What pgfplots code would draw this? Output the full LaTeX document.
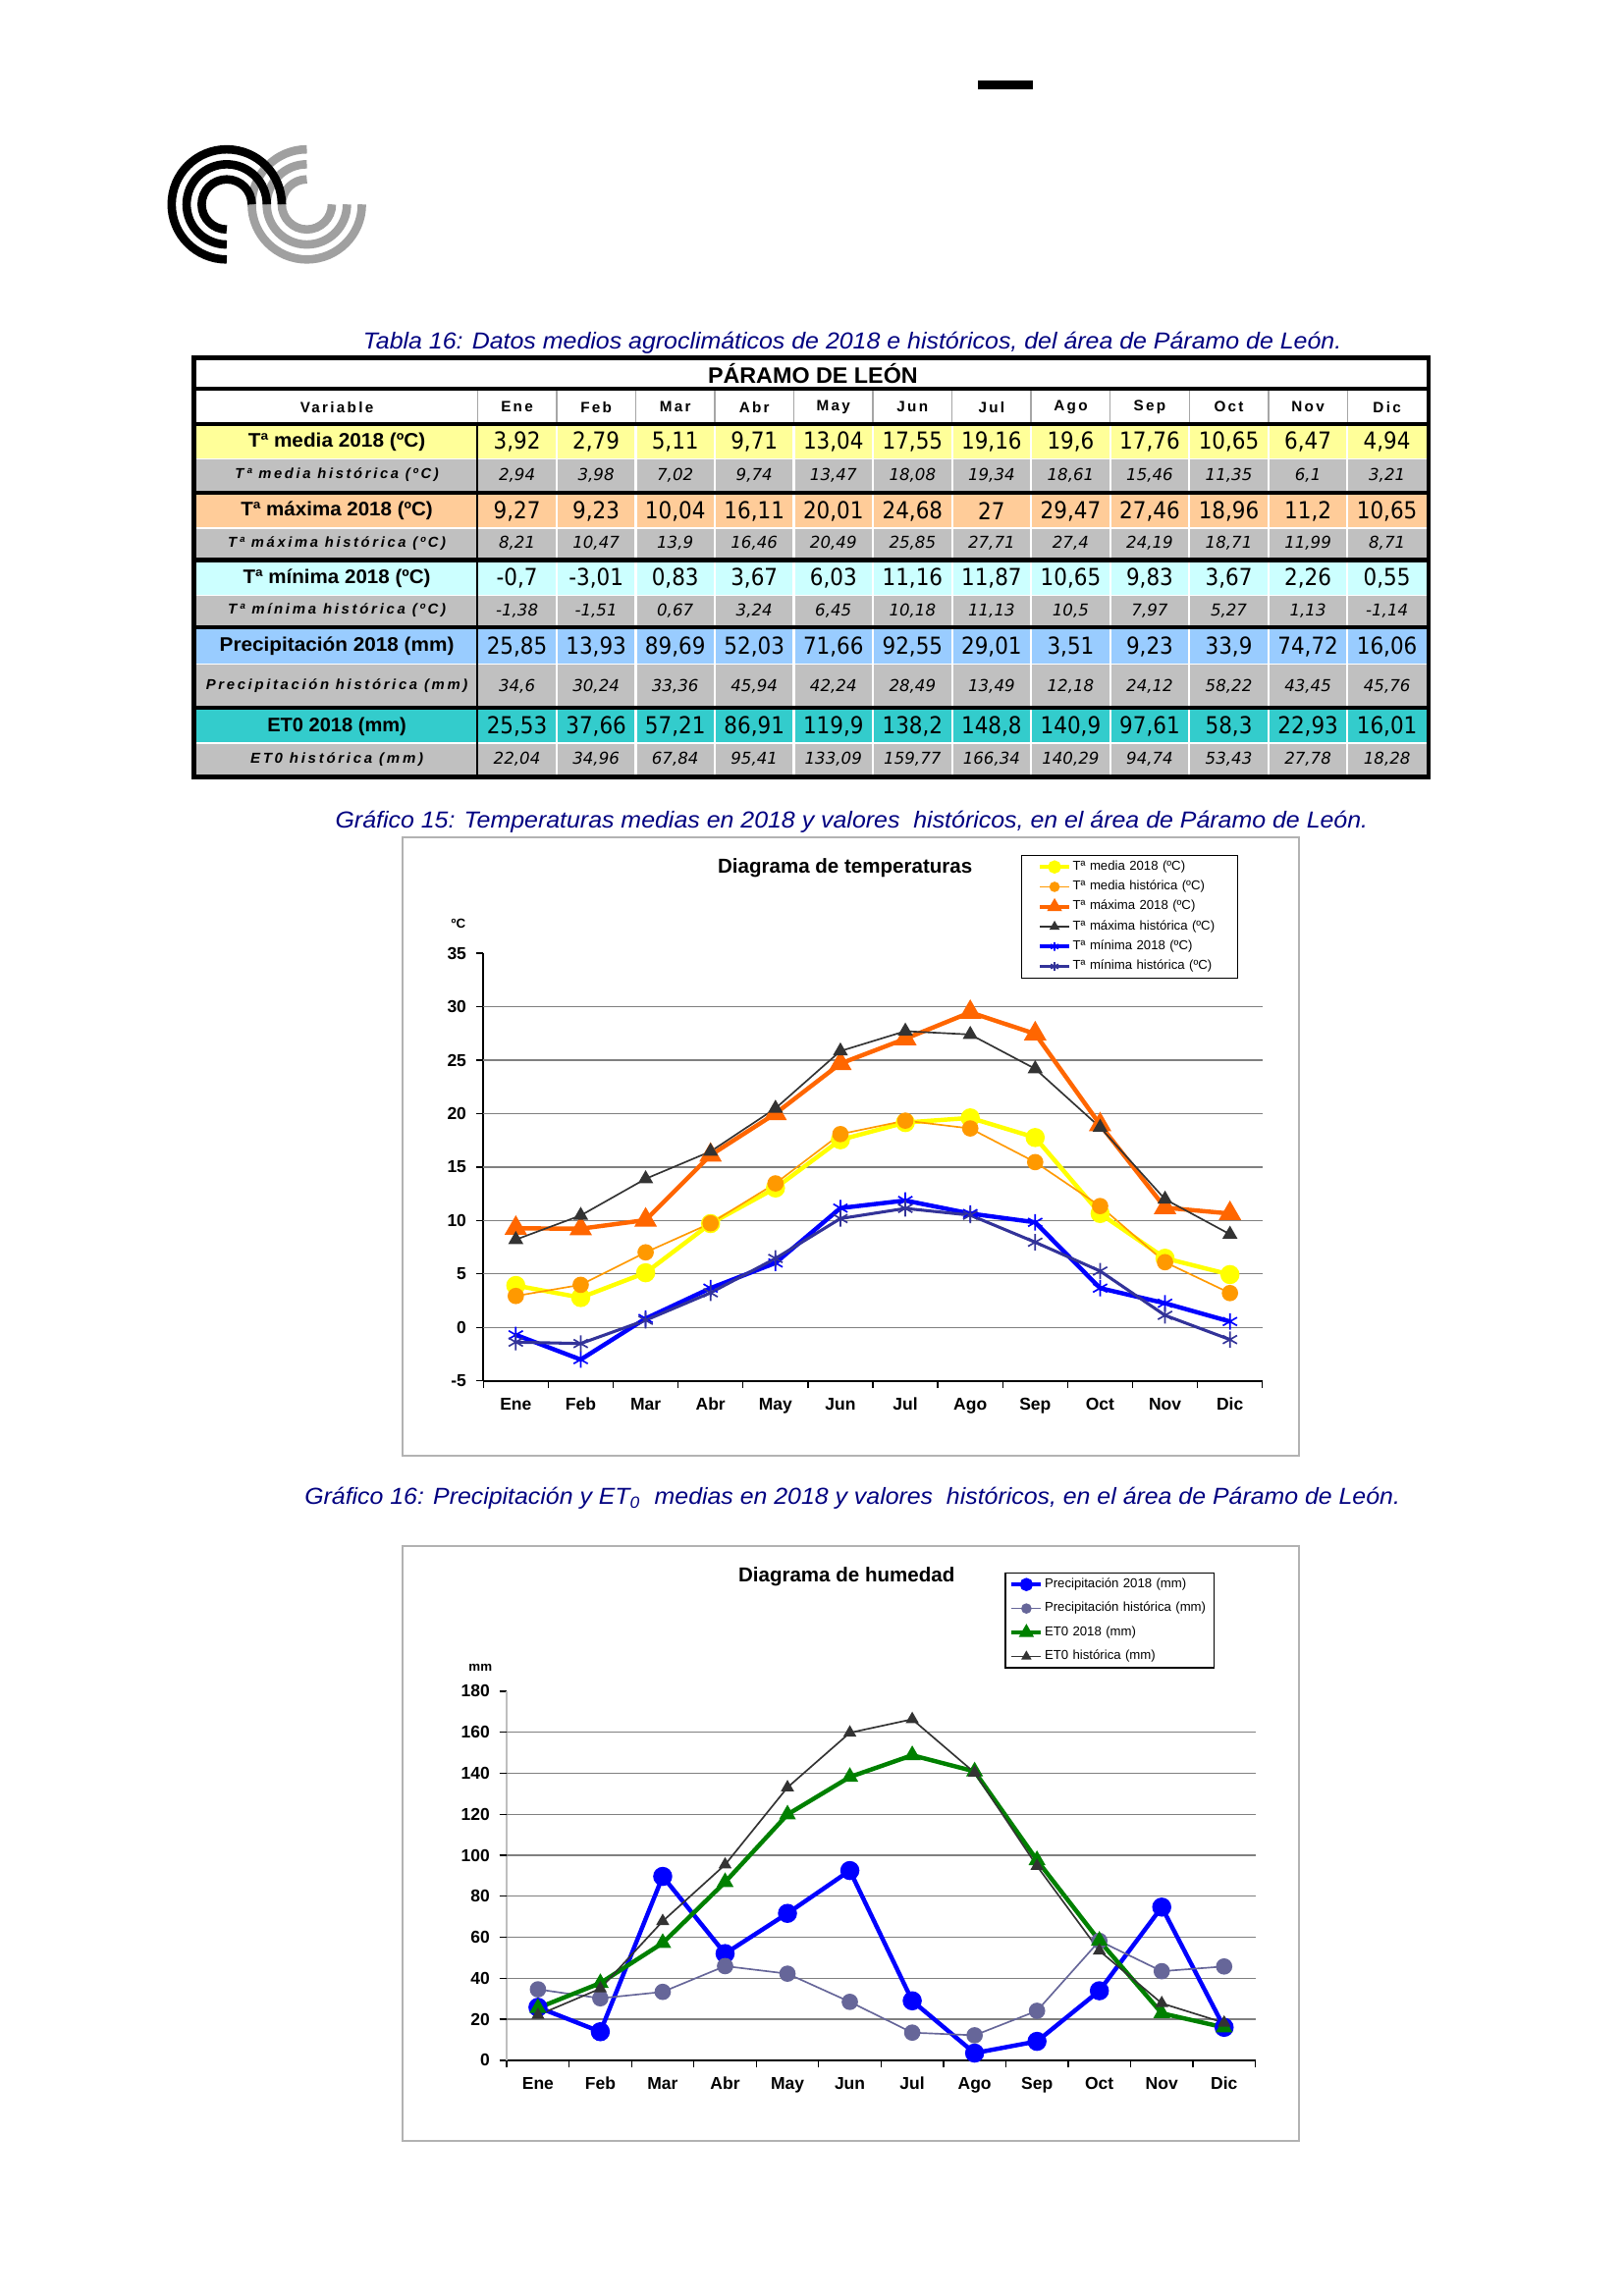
\documentclass[border=0pt]{standalone}
\usepackage{fontspec}
\setmainfont{Liberation Sans}
\newfontfamily\dvs{DejaVu Sans}
\newfontfamily\spc{Liberation Sans}[LetterSpace=15]
\newfontfamily\hsp{Liberation Sans}[LetterSpace=18]
\usepackage{pgfplots}
\pgfplotsset{compat=1.18}
\definecolor{capblue}{HTML}{000080}
\definecolor{rowyel}{HTML}{FFFF99}
\definecolor{rowgray}{HTML}{C0C0C0}
\definecolor{roworg}{HTML}{FFCC99}
\definecolor{rowcyan}{HTML}{CCFFFF}
\definecolor{rowblue}{HTML}{99CCFF}
\definecolor{rowteal}{HTML}{33CCCC}
\definecolor{lyellow}{HTML}{FFFF00}
\definecolor{lorange}{HTML}{FF9900}
\definecolor{lred}{HTML}{FF6600}
\definecolor{ldark}{HTML}{333333}
\definecolor{lblue}{HTML}{0000FF}
\definecolor{lnavy}{HTML}{333399}
\definecolor{lpurple}{HTML}{666699}
\definecolor{lgreen}{HTML}{008000}
\definecolor{logogray}{HTML}{A0A0A0}

\newcommand\bnum[1]{\scalebox{0.9}[1]{\dvs\fontsize{8.6}{9}\selectfont #1}}
\newcommand\hnum[1]{{\dvs\itshape\fontsize{6}{7}\selectfont #1}}
\newcommand\vals[3]{\foreach \v [count=\i from 0] in {#3}{\node[inner sep=0pt] at ({353+54*\i},#1) {#2{\v}};}}
\newcommand\blab[3]{\node[inner sep=0pt] at (230,#1) {\resizebox{#2}{\height}{\bfseries\fontsize{7.2}{8}\selectfont #3}};}
\newcommand\hlab[3]{\node[inner sep=0pt] at (230,#1) {\resizebox{#2}{\height}{\hsp\bfseries\itshape\fontsize{5.3}{6}\selectfont #3}};}
% group: top a, bottom a, top b, bottom b, color a
\newcommand\group[5]{%
  \fill[white] (134,#1) rectangle (974,#4);
  \fill[#5] (134,#1) rectangle (974,#2);
  \fill[rowgray] (134,#3) rectangle (974,#4);
  \foreach \k in {1,...,11}{\draw[white,line width=0.8pt] ({326+54*\k},#1) -- ({326+54*\k},#4);}
  \draw[black,line width=0.8pt] (326,#1) -- (326,#4);}

\pgfplotsset{
  mychart/.style={
    scale only axis, anchor=south west,
    xmin=-0.5, xmax=11.5,
    axis lines*=left,
    xtick={0,...,11},
    xticklabels={Ene,Feb,Mar,Abr,May,Jun,Jul,Ago,Sep,Oct,Nov,Dic},
    minor xtick={-0.5,0.5,...,11.5},
    tick align=outside, major tick length=2.7pt, minor tick length=2.7pt,
    tick style={black, line width=0.5pt},
    major x tick style={draw=none},
    tick label style={font=\bfseries\fontsize{6.3}{7}\selectfont},
    /pgf/number format/assume math mode=true,
    legend cell align=left,
    legend image code/.code={\draw[mark repeat=2,mark phase=2] plot coordinates {(0cm,0cm) (0.19cm,0cm) (0.38cm,0cm)};},
    legend image post style={mark size=1.6pt},
    clip=false,
  }
}

\begin{document}
\begin{tikzpicture}
% ---------- logo ----------
\begin{scope}[line width=3.1pt]
\foreach \r in {20.2pt,14.72pt,9.19pt}{
  \draw[logogray] (112.56pt,-75pt) ++(180:\r) arc[start angle=180,end angle=360,radius=\r];
  \draw[logogray] (112.56pt,-75pt) ++(90:\r) arc[start angle=90,end angle=180,radius=\r];
}
\foreach \r in {20.2pt,14.72pt,9.19pt}{
  \draw[black] (83.17pt,-75pt) ++(270:\r) arc[start angle=270,end angle=0,radius=\r];
}
\end{scope}
\begin{scope}[x=0.5373pt,y=-0.5373pt]
\path[use as bounding box] (0,0) rectangle (1108,1568);
\fill[black] (668,55) rectangle (705,61);
% ---------- captions ----------
\node[text=capblue,inner sep=0pt] at (582,234) {\resizebox{358.9pt}{\height}{\fontsize{8.5}{10}\selectfont\itshape Tabla 16: Datos medios agroclimáticos de 2018 e históricos, del área de Páramo de León.}};
\node[text=capblue,inner sep=0pt] at (581.5,561) {\resizebox{378.8pt}{\height}{\fontsize{8.5}{10}\selectfont\itshape Gráfico 15: Temperaturas medias en 2018 y valores \ históricos, en el área de Páramo de León.}};
\node[text=capblue,inner sep=0pt] at (582,1023) {\resizebox{401.9pt}{\height}{\fontsize{8.5}{10}\selectfont\itshape Gráfico 16: Precipitación y ET\textsubscript{0} \ medias en 2018 y valores \ históricos, en el área de Páramo de León.}};
% ---------- table ----------
\fill[black] (131,243) rectangle (977,532);
\fill[white] (134,246) rectangle (974,264);
\fill[white] (134,267) rectangle (974,288);
\foreach \k in {0,...,11}{\draw[gray!70,line width=0.5pt] ({326+54*\k},267) -- ({326+54*\k},288);}
\node[inner sep=0pt] at (555,255) {\resizebox{77pt}{\height}{\bfseries\fontsize{8.2}{9}\selectfont PÁRAMO DE LEÓN}};
\node[inner sep=0pt] at (230,278) {\spc\bfseries\fontsize{5.5}{6}\selectfont Variable};
\foreach \m [count=\i from 0] in {Ene,Feb,Mar,Abr,May,Jun,Jul,Ago,Sep,Oct,Nov,Dic}{
  \node[inner sep=0pt] at ({353+54*\i},278) {\spc\bfseries\fontsize{5.5}{6}\selectfont \m};}
\group{291}{313}{314}{335}{rowyel}
\group{338}{360}{361}{381}{roworg}
\group{384}{406}{407}{427}{rowcyan}
\group{430}{453}{454}{482}{rowblue}
\group{485}{507}{508}{529}{rowteal}
\blab{302}{65pt}{Tª media 2018 (ºC)}
\hlab{324.5}{74.7pt}{Tª media histórica (ºC)}
\blab{349}{70.4pt}{Tª máxima 2018 (ºC)}
\hlab{371}{80pt}{Tª máxima histórica (ºC)}
\blab{395}{68.8pt}{Tª mínima 2018 (ºC)}
\hlab{417}{80pt}{Tª mínima histórica (ºC)}
\blab{441.5}{86pt}{Precipitación 2018 (mm)}
\hlab{468}{96pt}{Precipitación histórica (mm)}
\blab{496}{51pt}{ET0 2018 (mm)}
\hlab{518.5}{63.4pt}{ET0 histórica (mm)}
\vals{302}{\bnum}{{3,92},{2,79},{5,11},{9,71},{13,04},{17,55},{19,16},{19,6},{17,76},{10,65},{6,47},{4,94}}
\vals{324.5}{\hnum}{{2,94},{3,98},{7,02},{9,74},{13,47},{18,08},{19,34},{18,61},{15,46},{11,35},{6,1},{3,21}}
\vals{349}{\bnum}{{9,27},{9,23},{10,04},{16,11},{20,01},{24,68},{27},{29,47},{27,46},{18,96},{11,2},{10,65}}
\vals{371}{\hnum}{{8,21},{10,47},{13,9},{16,46},{20,49},{25,85},{27,71},{27,4},{24,19},{18,71},{11,99},{8,71}}
\vals{395}{\bnum}{{-0,7},{-3,01},{0,83},{3,67},{6,03},{11,16},{11,87},{10,65},{9,83},{3,67},{2,26},{0,55}}
\vals{417}{\hnum}{{-1,38},{-1,51},{0,67},{3,24},{6,45},{10,18},{11,13},{10,5},{7,97},{5,27},{1,13},{-1,14}}
\vals{441.5}{\bnum}{{25,85},{13,93},{89,69},{52,03},{71,66},{92,55},{29,01},{3,51},{9,23},{33,9},{74,72},{16,06}}
\vals{469}{\hnum}{{34,6},{30,24},{33,36},{45,94},{42,24},{28,49},{13,49},{12,18},{24,12},{58,22},{43,45},{45,76}}
\vals{496}{\bnum}{{25,53},{37,66},{57,21},{86,91},{119,9},{138,2},{148,8},{140,9},{97,61},{58,3},{22,93},{16,01}}
\vals{518.5}{\hnum}{{22,04},{34,96},{67,84},{95,41},{133,09},{159,77},{166,34},{140,29},{94,74},{53,43},{27,78},{18,28}}
% ---------- chart frames ----------
\draw[gray!60,line width=0.6pt] (275,572) rectangle (887,994);
\draw[gray!60,line width=0.6pt] (275,1056) rectangle (887,1462);
\node[inner sep=0pt] at (577,593) {\bfseries\fontsize{7.4}{8}\selectfont Diagrama de temperaturas};
\node[inner sep=0pt] at (578,1077) {\bfseries\fontsize{7.4}{8}\selectfont Diagrama de humedad};
\node[inner sep=0pt] at (313,631) {\bfseries\fontsize{4.8}{5}\selectfont ºC};
\node[inner sep=0pt] at (328,1139) {\bfseries\fontsize{4.8}{5}\selectfont mm};
\coordinate (A1) at (330,943);
\coordinate (A2) at (346,1407);
\end{scope}

% ---------- chart 1 ----------
\begin{axis}[mychart, at={(A1)},
  width=285.8pt, height=156.9pt,
  ymin=-5, ymax=35,
  ytick={-5,0,...,35},
  axis line style={black, line width=0.6pt},
  extra y ticks={0,5,...,30}, extra y tick labels={},
  extra y tick style={grid=major, major grid style={black!50, line width=0.5pt}},
  legend style={at={(0.6898,1.2295)}, anchor=north west, draw=black, fill=white,
    inner xsep=6pt, inner ysep=1.5pt, row sep=2pt,
    font=\fontsize{4.75}{5}\selectfont,
    nodes={inner sep=0.5pt, text height=3.3pt, text depth=1pt, text width=54pt, align=left}},
]
\addplot[color=lyellow, line width=1.6pt, mark=*, mark size=2.7pt, mark options={fill=lyellow}] coordinates {(0,3.92)(1,2.79)(2,5.11)(3,9.71)(4,13.04)(5,17.55)(6,19.16)(7,19.6)(8,17.76)(9,10.65)(10,6.47)(11,4.94)};
\addlegendentry{Tª media 2018 (ºC)}
\addplot[color=lorange, line width=0.6pt, mark=*, mark size=2.7pt, mark options={fill=lorange}] coordinates {(0,2.94)(1,3.98)(2,7.02)(3,9.74)(4,13.47)(5,18.08)(6,19.34)(7,18.61)(8,15.46)(9,11.35)(10,6.1)(11,3.21)};
\addlegendentry{Tª media histórica (ºC)}
\addplot[color=lred, line width=1.6pt, mark=triangle*, mark size=3.2pt, mark options={fill=lred}] coordinates {(0,9.27)(1,9.23)(2,10.04)(3,16.11)(4,20.01)(5,24.68)(6,27)(7,29.47)(8,27.46)(9,18.96)(10,11.2)(11,10.65)};
\addlegendentry{Tª máxima 2018 (ºC)}
\addplot[color=ldark, line width=0.6pt, mark=triangle*, mark size=2.6pt, mark options={fill=ldark}] coordinates {(0,8.21)(1,10.47)(2,13.9)(3,16.46)(4,20.49)(5,25.85)(6,27.71)(7,27.4)(8,24.19)(9,18.71)(10,11.99)(11,8.71)};
\addlegendentry{Tª máxima histórica (ºC)}
\addplot[color=lblue, line width=1.6pt, mark=asterisk, mark size=3pt, mark options={line width=0.6pt}] coordinates {(0,-0.7)(1,-3.01)(2,0.83)(3,3.67)(4,6.03)(5,11.16)(6,11.87)(7,10.65)(8,9.83)(9,3.67)(10,2.26)(11,0.55)};
\addlegendentry{Tª mínima 2018 (ºC)}
\addplot[color=lnavy, line width=1.1pt, mark=asterisk, mark size=3pt, mark options={line width=0.6pt}] coordinates {(0,-1.38)(1,-1.51)(2,0.67)(3,3.24)(4,6.45)(5,10.18)(6,11.13)(7,10.5)(8,7.97)(9,5.27)(10,1.13)(11,-1.14)};
\addlegendentry{Tª mínima histórica (ºC)}
\end{axis}

% ---------- chart 2 ----------
\begin{axis}[mychart, at={(A2)},
  width=274.6pt, height=135.4pt,
  ymin=0, ymax=180,
  ytick={0,20,...,180},
  x axis line style={black, line width=0.6pt},
  y axis line style={black!25, line width=0.6pt},
  extra y ticks={20,40,...,160}, extra y tick labels={},
  extra y tick style={grid=major, major grid style={black!50, line width=0.5pt}},
  legend style={at={(0.6654,1.3214)}, anchor=north west, draw=black, fill=white,
    inner xsep=1.5pt, inner ysep=1.5pt, row sep=3.5pt,
    font=\fontsize{4.75}{5}\selectfont,
    nodes={inner sep=0.5pt, text height=3.3pt, text depth=1pt, text width=60pt, align=left}},
]
\addplot[color=lblue, line width=1.6pt, mark=*, mark size=2.7pt, mark options={fill=lblue}] coordinates {(0,25.85)(1,13.93)(2,89.69)(3,52.03)(4,71.66)(5,92.55)(6,29.01)(7,3.51)(8,9.23)(9,33.9)(10,74.72)(11,16.06)};
\addlegendentry{Precipitación 2018 (mm)}
\addplot[color=lpurple, line width=0.6pt, mark=*, mark size=2.7pt, mark options={fill=lpurple}] coordinates {(0,34.6)(1,30.24)(2,33.36)(3,45.94)(4,42.24)(5,28.49)(6,13.49)(7,12.18)(8,24.12)(9,58.22)(10,43.45)(11,45.76)};
\addlegendentry{Precipitación histórica (mm)}
\addplot[color=lgreen, line width=1.6pt, mark=triangle*, mark size=2pt, mark options={fill=lgreen}] coordinates {(0,25.53)(1,37.66)(2,57.21)(3,86.91)(4,119.9)(5,138.2)(6,148.8)(7,140.9)(8,97.61)(9,58.3)(10,22.93)(11,16.01)};
\addlegendentry{ET0 2018 (mm)}
\addplot[color=ldark, line width=0.6pt, mark=triangle*, mark size=2.2pt, mark options={fill=ldark}] coordinates {(0,22.04)(1,34.96)(2,67.84)(3,95.41)(4,133.09)(5,159.77)(6,166.34)(7,140.29)(8,94.74)(9,53.43)(10,27.78)(11,18.28)};
\addlegendentry{ET0 histórica (mm)}
\end{axis}
\end{tikzpicture}
\end{document}
